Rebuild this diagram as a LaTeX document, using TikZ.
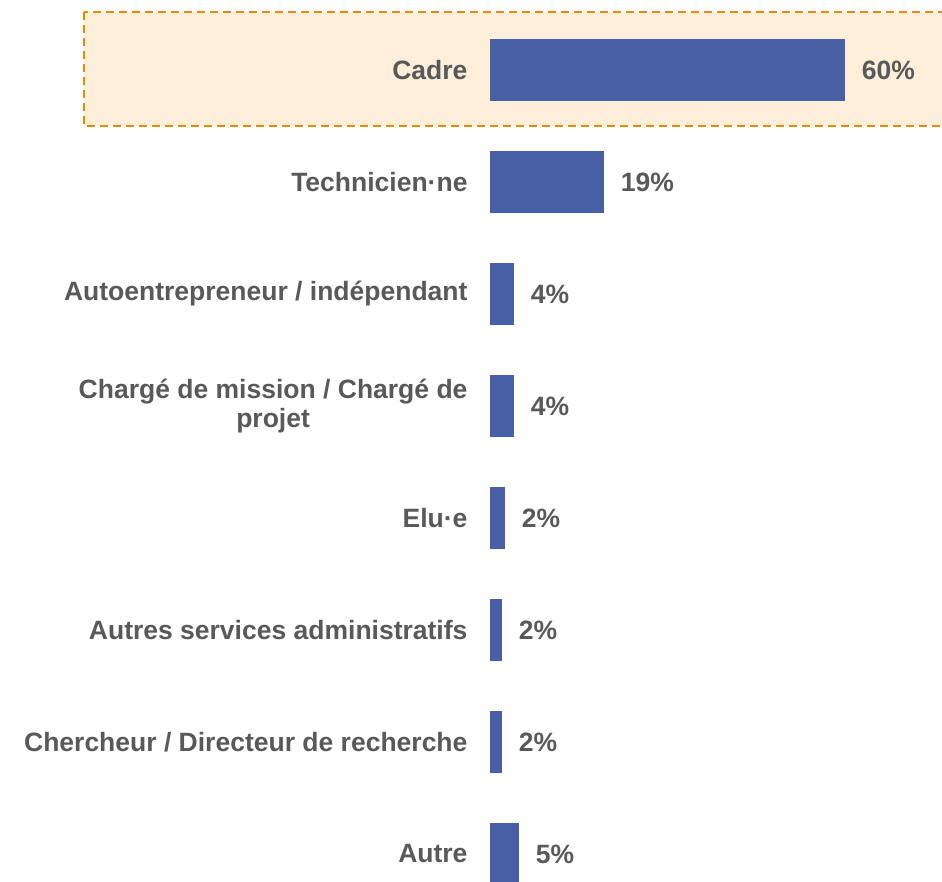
\documentclass[tikz,border=0pt]{standalone}
\usepackage{fontspec}
\setmainfont{Liberation Sans}
\definecolor{barblue}{RGB}{71,95,164}
\definecolor{txtgray}{RGB}{89,89,89}
\definecolor{hiorange}{RGB}{228,140,10}
\definecolor{hifill}{RGB}{253,238,218}
\begin{document}
\begin{tikzpicture}[x=1pt, y=-1pt,
  every node/.style={font=\fontsize{26.5}{29}\selectfont\bfseries, text=txtgray},
  bar/.style={rectangle, fill=barblue, anchor=west, minimum height=62pt, inner sep=0pt},
  every label/.style={font=\fontsize{26.5}{29}\selectfont\bfseries, text=txtgray, align=center},
  label distance=19pt]
\useasboundingbox (0,0) rectangle (942,881);
\draw[hiorange, fill=hifill, line width=2.5pt, dash pattern=on 8pt off 5pt] (84,12) rectangle (960,126);
\node[bar, minimum width=355pt, label=left:{Cadre}, label={[label distance=13pt]right:{60\%}}] (B1) at (490,70) {};
\node[bar, minimum width=114pt, label=left:{Technicien·ne}, label={[label distance=13pt]right:{19\%}}] (B2) at (490,182) {};
\node[bar, minimum width=24pt, label=left:{Autoentrepreneur / indépendant}, label={[label distance=13pt]right:{4\%}}] (B3) at (490,294) {};
\node[bar, minimum width=24pt, label=left:{Chargé de mission / Chargé de\\projet}, label={[label distance=13pt]right:{4\%}}] (B4) at (490,406) {};
\node[bar, minimum width=15pt, label=left:{Elu·e}, label={[label distance=13pt]right:{2\%}}] (B5) at (490,518) {};
\node[bar, minimum width=12pt, label=left:{Autres services administratifs}, label={[label distance=13pt]right:{2\%}}] (B6) at (490,630) {};
\node[bar, minimum width=12pt, label=left:{Chercheur / Directeur de recherche}, label={[label distance=13pt]right:{2\%}}] (B7) at (490,742) {};
\node[bar, minimum width=29pt, label=left:{Autre}, label={[label distance=13pt]right:{5\%}}] (B8) at (490,854) {};
\end{tikzpicture}
\end{document}
